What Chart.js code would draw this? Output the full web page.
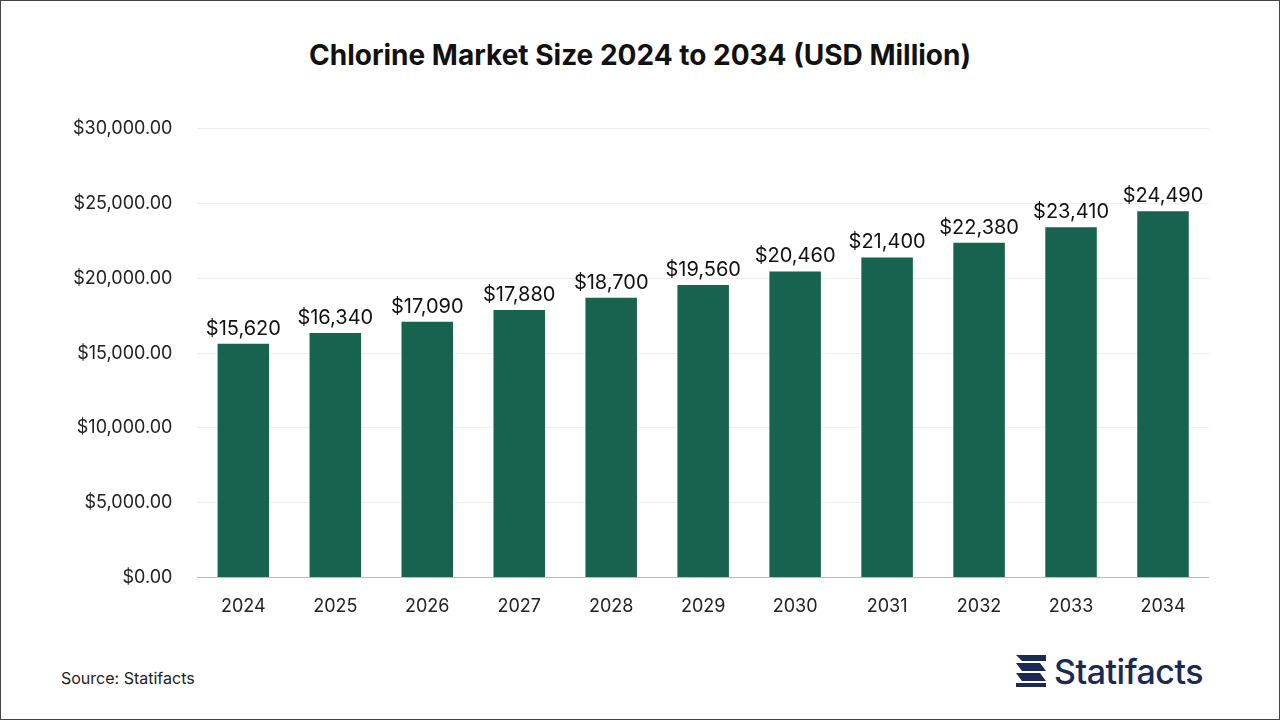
<!DOCTYPE html>
<html>
<head>
<meta charset="utf-8">
<script src="https://cdn.jsdelivr.net/npm/chart.js@4/dist/chart.umd.min.js"></script>
<style>
  html, body { margin: 0; padding: 0; background: #fff; }
  #frame { position: absolute; left: 0; top: 0; width: 1278px; height: 718px; border: 1px solid #444; font-family: Inter, "Noto Sans", sans-serif; }
  #title { position: absolute; top: 37px; width: 100%; text-align: center; font-size: 28px; font-weight: bold; color: #111; }
  #box { position: absolute; left: 47px; top: 92px; width: 1161px; height: 534px; }
  #source { position: absolute; left: 60px; top: 667px; font-size: 16px; color: #222; }
  #logo { position: absolute; left: 1013px; top: 648px; height: 44px; display: flex; align-items: center; }
  #logo span { font-size: 34px; font-weight: 500; color: #1b2a55; margin-left: 6px; letter-spacing: -0.5px; }
</style>
</head>
<body>
<div id="frame">
  <div id="title">Chlorine Market Size 2024 to 2034 (USD Million)</div>
  <div id="box"><canvas id="chart"></canvas></div>
  <div id="source">Source: Statifacts</div>
  <div id="logo">
    <svg width="34" height="36" viewBox="0 0 34 36">
      <path d="M2 2 H32 V8 H8 Z" fill="#1b2a55"/>
      <path d="M2 10 L26 10 L32 18 L8 18 Z" fill="#1b2a55"/>
      <path d="M2 20 L26 20 L32 28 L8 28 Z" fill="#1b2a55"/>
      <path d="M2 30 H32 V34 H2 Z" fill="#1b2a55"/>
    </svg>
    <span>Statifacts</span>
  </div>
</div>
<script>
// Data
const years = ['2024', '2025', '2026', '2027', '2028', '2029', '2030', '2031', '2032', '2033', '2034'];
const marketSize = [15620, 16340, 17090, 17880, 18700, 19560, 20460, 21400, 22380, 23410, 24490];
const yTicks = [0, 5000, 10000, 15000, 20000, 25000, 30000];

const barColor = '#17634f';
const fontFamily = 'Inter, "Noto Sans", sans-serif';

// draws "$15,620" above each bar
const valueLabels = {
  id: 'valueLabels',
  afterDatasetsDraw(chart) {
    const ctx = chart.ctx;
    const meta = chart.getDatasetMeta(0);
    ctx.save();
    ctx.font = '20px ' + fontFamily;
    ctx.fillStyle = '#111';
    ctx.textAlign = 'center';
    ctx.textBaseline = 'bottom';
    meta.data.forEach((bar, i) => {
      ctx.fillText('$' + marketSize[i].toLocaleString('en-US'), bar.x, bar.y - 5);
    });
    ctx.restore();
  }
};

new Chart(document.getElementById('chart'), {
  type: 'bar',
  data: {
    labels: years,
    datasets: [{
      data: marketSize,
      backgroundColor: barColor,
      barPercentage: 0.56,
      categoryPercentage: 1
    }]
  },
  options: {
    responsive: true,
    maintainAspectRatio: false,
    animation: false,
    layout: { padding: { top: 26, right: 0 } },
    plugins: { legend: { display: false }, tooltip: { enabled: false } },
    scales: {
      x: {
        grid: { display: false },
        border: { color: '#bbb' },
        ticks: { color: '#222', font: { size: 18, family: fontFamily }, padding: 10 }
      },
      y: {
        min: 0,
        max: 30000,
        afterBuildTicks(axis) { axis.ticks = yTicks.map(v => ({ value: v })); },
        grid: { color: '#eeeeee', drawTicks: false },
        border: { display: false },
        ticks: {
          color: '#222',
          font: { size: 18, family: fontFamily },
          padding: 25,
          callback: v => '$' + Number(v).toLocaleString('en-US', { minimumFractionDigits: 2, maximumFractionDigits: 2 })
        }
      }
    }
  },
  plugins: [valueLabels]
});
</script>
</body>
</html>
